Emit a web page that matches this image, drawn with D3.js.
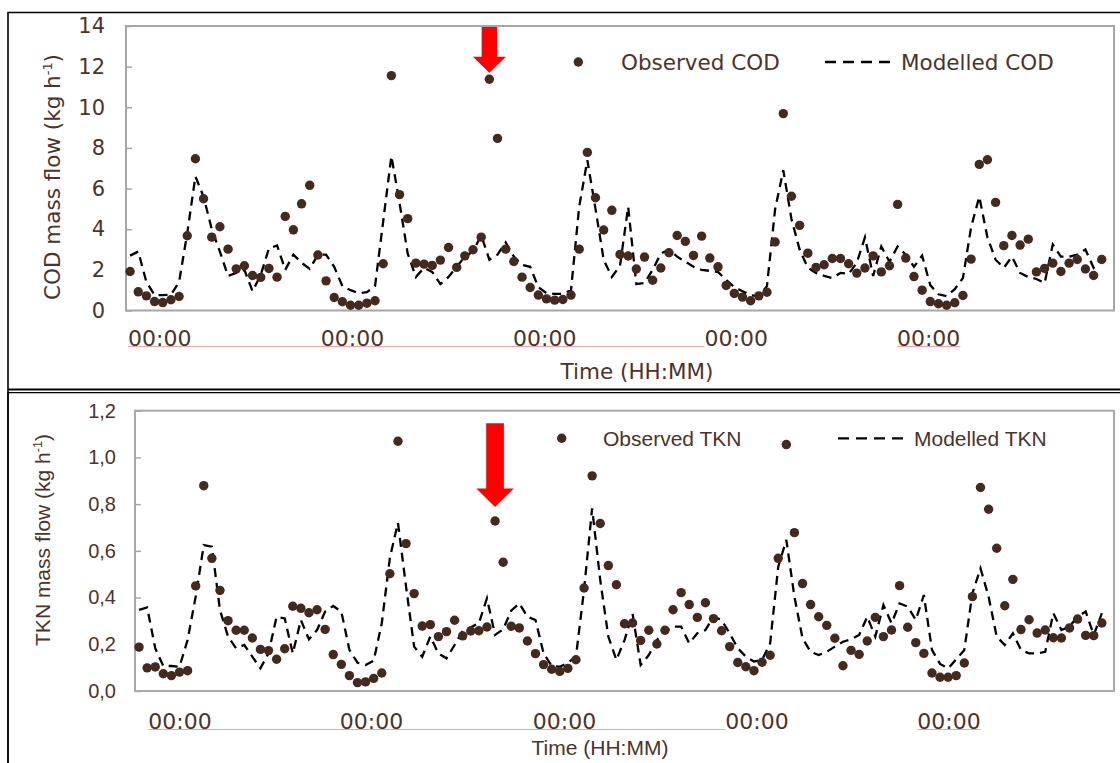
<!DOCTYPE html>
<html>
<head>
<meta charset="utf-8">
<script src="https://cdn.jsdelivr.net/npm/d3@7/dist/d3.min.js"></script>
<style>
  html, body { margin: 0; padding: 0; background: #ffffff; }
  svg { display: block; }
</style>
</head>
<body>
<svg id="chart" width="1120" height="763"></svg>
<script>
// Hourly samples over five days (hour index 0..119)
const hours = d3.range(120);

// Chemical oxygen demand mass flow, kg/h
const codObserved = [
  1.92, 0.92, 0.72, 0.44, 0.39, 0.53, 0.69, 3.68, 7.47, 5.50, 3.61, 4.12, 3.02, 2.05, 2.20, 1.72,
  1.63, 2.07, 1.64, 4.63, 3.97, 5.25, 6.16, 2.73, 1.46, 0.64, 0.43, 0.26, 0.26, 0.36, 0.48,
  2.30, 11.56, 5.70, 4.52, 2.33, 2.28, 2.22, 2.48, 3.10, 2.12, 2.69, 2.99, 3.61, 11.38, 8.47,
  3.02, 2.41, 1.64, 1.13, 0.76, 0.57, 0.51, 0.54, 0.76, 3.02, 7.78, 5.55, 3.96, 4.93, 2.76,
  2.68, 2.04, 2.63, 1.49, 2.09, 2.84, 3.69, 3.40, 2.71, 3.66, 2.58, 2.15, 1.23, 0.84,
  0.66, 0.48, 0.72, 0.90, 3.37, 9.69, 5.62, 4.19, 2.82, 2.12, 2.25, 2.56, 2.56, 2.30, 1.84,
  2.09, 2.69, 1.90, 2.20, 5.22, 2.58, 1.67, 1.00, 0.44, 0.33, 0.26, 0.38, 0.74, 2.53, 7.19,
  7.42, 5.32, 3.19, 3.69, 3.22, 3.51, 1.90, 2.07, 2.33, 1.92, 2.33, 2.51, 2.04, 1.72, 2.51
];
const codModelled = [
  2.70, 2.90, 1.40, 0.76, 0.76, 0.77, 1.40, 3.80, 6.60, 5.60, 4.00, 2.90, 1.70, 1.85, 2.00, 0.95,
  1.75, 3.05, 3.20, 2.00, 2.75, 2.35, 2.05, 2.75, 2.75, 2.15, 1.20, 1.00, 0.85, 0.90, 1.20,
  4.40, 7.60, 5.30, 2.80, 1.65, 2.10, 1.90, 1.30, 1.65, 2.15, 2.65, 2.90, 3.70, 2.50, 2.75,
  3.35, 2.65, 2.25, 2.15, 1.15, 0.85, 0.82, 0.82, 1.00, 5.10, 7.40, 5.00, 2.50, 1.65, 2.20,
  5.10, 1.30, 1.35, 2.00, 2.80, 3.00, 2.65, 2.40, 2.15, 2.00, 1.95, 1.90, 1.50, 1.15,
  0.95, 0.75, 0.70, 1.20, 5.00, 6.90, 4.50, 3.00, 2.10, 1.85, 1.70, 1.60, 1.85, 1.80, 2.35,
  3.60, 1.70, 3.15, 2.40, 3.15, 2.75, 2.15, 2.70, 1.25, 0.80, 0.70, 1.05, 1.60, 4.10, 5.60,
  3.60, 2.50, 2.10, 2.65, 1.85, 1.65, 1.55, 1.35, 3.25, 2.65, 2.65, 2.75, 3.00, 2.10, 2.60
];

// Total Kjeldahl nitrogen mass flow, kg/h
const tknObserved = [
  0.188, 0.099, 0.103, 0.074, 0.066, 0.081, 0.087, 0.450, 0.879, 0.568, 0.431, 0.301, 0.260, 0.260,
  0.227, 0.178, 0.173, 0.136, 0.181, 0.363, 0.354, 0.335, 0.348, 0.264, 0.156, 0.114, 0.066, 0.036,
  0.039, 0.054, 0.077,
  0.502, 1.069, 0.631, 0.417, 0.278, 0.284, 0.233, 0.254, 0.303, 0.236, 0.257, 0.258, 0.274, 0.728,
  0.551, 0.277, 0.270, 0.214, 0.160, 0.113, 0.093, 0.084, 0.097, 0.134, 0.441, 0.921, 0.717, 0.537,
  0.455, 0.288, 0.291, 0.216, 0.260, 0.201, 0.260, 0.348, 0.421, 0.370, 0.315, 0.378, 0.310, 0.258,
  0.190, 0.122,
  0.104, 0.087, 0.123, 0.153, 0.568, 1.055, 0.678, 0.460, 0.370, 0.318, 0.281, 0.226, 0.108, 0.174,
  0.157, 0.214, 0.315, 0.233, 0.261, 0.451, 0.273, 0.207, 0.161, 0.077, 0.059, 0.059, 0.066, 0.120,
  0.404, 0.871, 0.778, 0.611, 0.365, 0.478, 0.263, 0.305, 0.248, 0.261, 0.228, 0.227, 0.270, 0.308,
  0.238, 0.237, 0.291
];
const tknModelled = [
  0.347, 0.358, 0.183, 0.107, 0.107, 0.104, 0.218, 0.404, 0.625, 0.618, 0.347, 0.233, 0.183, 0.197,
  0.147, 0.097, 0.161, 0.318, 0.311, 0.161, 0.304, 0.221, 0.261, 0.340, 0.364, 0.340, 0.176, 0.121,
  0.111, 0.130, 0.290, 0.570, 0.720, 0.447, 0.190, 0.147, 0.233, 0.161, 0.140, 0.197, 0.258, 0.273,
  0.290, 0.397, 0.240, 0.264, 0.344, 0.375, 0.318, 0.304, 0.161, 0.107, 0.104, 0.121, 0.147, 0.433,
  0.782, 0.475, 0.233, 0.133, 0.218, 0.330, 0.111, 0.154, 0.218, 0.258, 0.276, 0.276, 0.204, 0.247,
  0.261, 0.318, 0.304, 0.247, 0.183, 0.147, 0.126, 0.133, 0.204, 0.532, 0.647, 0.404, 0.226, 0.168,
  0.154, 0.168, 0.190, 0.211, 0.221, 0.240, 0.318, 0.233, 0.368, 0.290, 0.375, 0.361, 0.304, 0.411,
  0.176, 0.116, 0.097, 0.136, 0.176, 0.418, 0.525, 0.404, 0.233, 0.197, 0.247, 0.176, 0.161, 0.161,
  0.168, 0.333, 0.261, 0.276, 0.318, 0.340, 0.240, 0.333
];

// Axis ticks
const codTicks = [0, 2, 4, 6, 8, 10, 12, 14];
const tknTicks = [0, 0.2, 0.4, 0.6, 0.8, 1.0, 1.2];
// Midnight labels, placed along the hour axis
const codMidnights = [3.63, 27.24, 50.78, 74.24, 97.8];
const tknMidnights = [5.06, 28.73, 52.59, 76.38, 100.1];
const midnightLabel = "00:00";
// Hour of the flagged event
const flaggedHour = 44;

const TEXT = "#4b3429";
const DOT = "#44291f";
const DOT_R = 4.7;
const svg = d3.select("#chart");

// Outer frames
svg.append("path")
  .attr("d", "M8,1130 L8,12.5 L1125,12.5")
  .attr("fill", "none").attr("stroke", "#000").attr("stroke-width", 1.6);
svg.append("line").attr("x1", 8).attr("x2", 1125).attr("y1", 389.6).attr("y2", 389.6)
  .attr("stroke", "#000").attr("stroke-width", 2);
svg.append("path")
  .attr("d", "M8,800 L8,392.6 L1125,392.6")
  .attr("fill", "none").attr("stroke", "#000").attr("stroke-width", 1.2);

function drawPanel(cfg) {
  const g = svg.append("g");
  const x = d3.scaleLinear().domain([-0.5, 120.5]).range([cfg.left, cfg.right]);
  const y = d3.scaleLinear().domain([0, cfg.yMax]).range([cfg.bottom, cfg.top]);

  // plot area frame
  g.append("rect")
    .attr("x", cfg.left).attr("y", cfg.top)
    .attr("width", cfg.right - cfg.left).attr("height", cfg.bottom - cfg.top)
    .attr("fill", "none").attr("stroke", cfg.frameColor).attr("stroke-width", 2);

  // y axis with inward ticks
  const yAxis = d3.axisLeft(y).tickValues(cfg.ticks).tickSize(-6).tickPadding(27)
    .tickFormat(cfg.tickFormat);
  const ya = g.append("g").attr("transform", `translate(${cfg.left},0)`).call(yAxis);
  ya.select(".domain").remove();
  ya.selectAll(".tick line").attr("stroke", cfg.frameColor).attr("stroke-width", 1.5);
  ya.selectAll(".tick text")
    .attr("x", cfg.tickRight - cfg.left)
    .attr("fill", TEXT)
    .style("font-family", cfg.tickFont)
    .style("font-size", cfg.tickSize + "px");

  // midnight labels along the time axis
  const xa = g.append("g");
  const labels = xa.selectAll("text").data(cfg.midnights).join("text")
    .attr("x", d => x(d)).attr("y", cfg.hourLabelY)
    .attr("text-anchor", "middle")
    .attr("fill", TEXT)
    .style("font-family", "'DejaVu Sans', Verdana, sans-serif")
    .style("font-size", "22px")
    .text(midnightLabel);
  // thin pink underline beneath the labels
  const boxes = labels.nodes().map(n => n.getBBox());
  const ul = [[boxes[0].x, boxes[3].x], [boxes[4].x, boxes[4].x + boxes[4].width]];
  xa.selectAll("line").data(ul).join("line")
    .attr("x1", d => d[0]).attr("x2", d => d[1])
    .attr("y1", cfg.hourLabelY + 0.5).attr("y2", cfg.hourLabelY + 0.5)
    .attr("stroke", "#f2a3a3").attr("stroke-width", 1);

  // axis titles
  const yt = g.append("text")
    .attr("transform", `translate(${cfg.yTitleX},${cfg.yTitleY}) rotate(-90)`)
    .attr("text-anchor", "middle")
    .attr("fill", TEXT)
    .style("font-family", cfg.titleFont)
    .style("font-size", cfg.titleSize + "px");
  yt.append("tspan").text(cfg.yTitle + " (kg h");
  yt.append("tspan").attr("dy", -8).style("font-size", (cfg.titleSize * 0.6) + "px").text("-1");
  yt.append("tspan").attr("dy", 8).text(")");

  g.append("text")
    .attr("x", cfg.xTitleX).attr("y", cfg.xTitleY)
    .attr("text-anchor", "middle")
    .attr("fill", TEXT)
    .style("font-family", cfg.titleFont)
    .style("font-size", cfg.titleSize + "px")
    .text("Time (HH:MM)");

  // modelled series (dashed)
  const line = d3.line().x((d, i) => x(hours[i])).y(d => y(d));
  g.append("path").datum(cfg.modelled)
    .attr("d", line)
    .attr("fill", "none").attr("stroke", "#000")
    .attr("stroke-width", 2.3).attr("stroke-dasharray", "9,6");

  // observed series (dots)
  g.append("g").selectAll("circle").data(cfg.observed).join("circle")
    .attr("cx", (d, i) => x(hours[i])).attr("cy", d => y(d))
    .attr("r", DOT_R).attr("fill", DOT);

  // flagged-event arrow
  const ax = x(flaggedHour);
  const tipY = y(cfg.observed[flaggedHour]) - cfg.arrow.gap;
  const sw = cfg.arrow.shaft / 2, hw = cfg.arrow.head / 2;
  const baseY = tipY - cfg.arrow.headLen;
  g.append("path")
    .attr("d", `M${ax - sw},${cfg.arrow.topY} L${ax + sw},${cfg.arrow.topY} L${ax + sw},${baseY}
      L${ax + hw},${baseY} L${ax},${tipY} L${ax - hw},${baseY} L${ax - sw},${baseY} Z`)
    .attr("fill", "#ff0000");

  // legend
  const lg = g.append("g").style("font-family", cfg.titleFont).style("font-size", cfg.legendSize + "px");
  lg.append("circle").attr("cx", cfg.legend.dotX).attr("cy", cfg.legend.y).attr("r", DOT_R).attr("fill", DOT);
  lg.append("text").attr("x", cfg.legend.obsX).attr("y", cfg.legend.y + 8).attr("fill", TEXT)
    .text("Observed " + cfg.name);
  lg.append("line").attr("x1", cfg.legend.lineX).attr("x2", cfg.legend.lineX + 65)
    .attr("y1", cfg.legend.y).attr("y2", cfg.legend.y)
    .attr("stroke", "#000").attr("stroke-width", 2.3).attr("stroke-dasharray", "11,7");
  lg.append("text").attr("x", cfg.legend.modX).attr("y", cfg.legend.y + 8).attr("fill", TEXT)
    .text("Modelled " + cfg.name);
}

drawPanel({
  name: "COD",
  observed: codObserved, modelled: codModelled,
  left: 126, right: 1114, top: 26, bottom: 310.5, yMax: 14,
  ticks: codTicks, tickFormat: d3.format("d"),
  tickFont: "'DejaVu Sans', Verdana, sans-serif", tickSize: 21, tickRight: 105,
  frameColor: "#a6a6a6",
  midnights: codMidnights, hourLabelY: 346,
  titleFont: "'DejaVu Sans', Verdana, sans-serif", titleSize: 21.5, legendSize: 21.5,
  yTitle: "COD mass flow", yTitleX: 60, yTitleY: 177,
  xTitleX: 637, xTitleY: 379,
  arrow: { topY: 27, gap: 6.6, headLen: 16, shaft: 15.4, head: 33 },
  legend: { y: 62, dotX: 578.3, obsX: 621, lineX: 825, modX: 901 }
});

drawPanel({
  name: "TKN",
  observed: tknObserved, modelled: tknModelled,
  left: 135, right: 1114, top: 410.7, bottom: 691, yMax: 1.2,
  ticks: tknTicks, tickFormat: d => d3.format(".1f")(d).replace(".", ","),
  tickFont: "'Liberation Sans', Arial, sans-serif", tickSize: 20, tickRight: 116,
  frameColor: "#a9a9a9",
  midnights: tknMidnights, hourLabelY: 729,
  titleFont: "'Liberation Sans', Arial, sans-serif", titleSize: 21, legendSize: 21,
  yTitle: "TKN mass flow", yTitleX: 50, yTitleY: 540,
  xTitleX: 600, xTitleY: 755,
  arrow: { topY: 423.3, gap: 14, headLen: 18.4, shaft: 17.7, head: 37.3 },
  legend: { y: 438.3, dotX: 561.7, obsX: 603, lineX: 838, modX: 914 }
});
</script>
</body>
</html>
